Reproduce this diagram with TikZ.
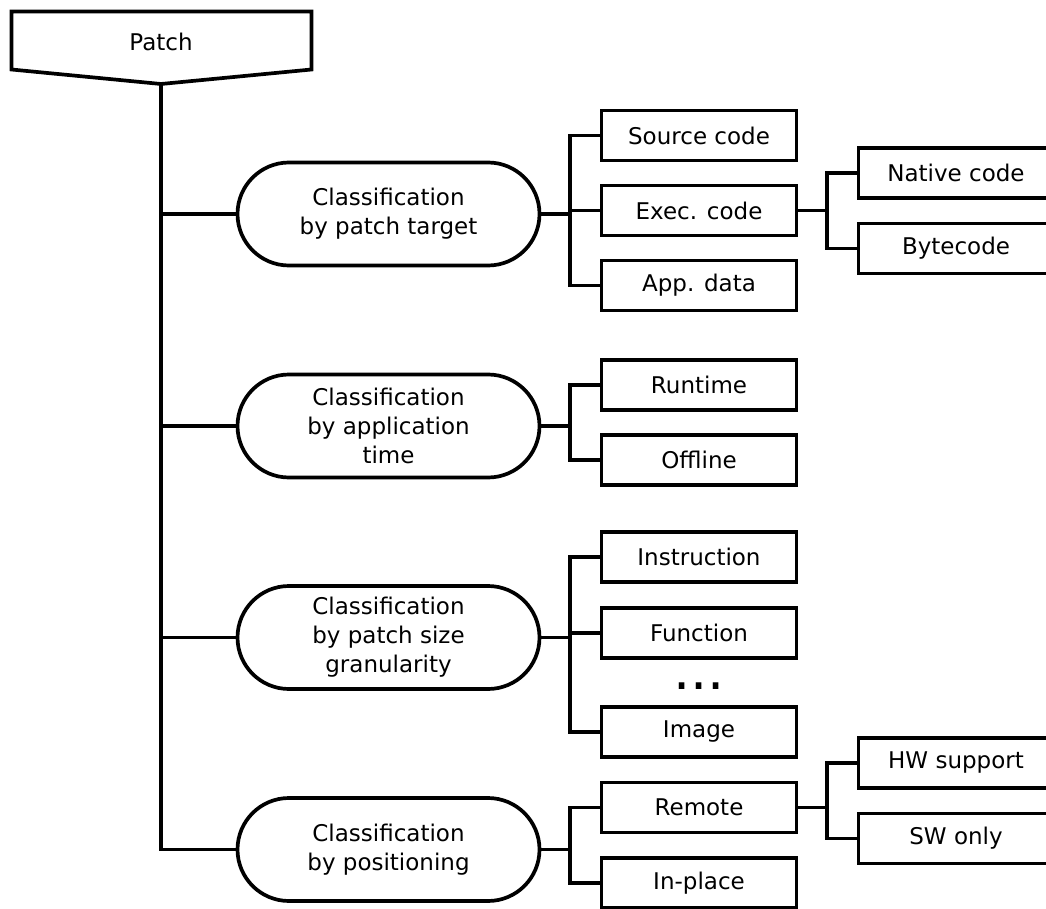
\documentclass[tikz,border=0pt]{standalone}
\usepackage{fontspec}
\setmainfont{DejaVu Sans}
\begin{document}
\begin{tikzpicture}[x=1pt,y=-1pt,
  every node/.style={font=\fontsize{23}{29}\selectfont, inner sep=0pt},
  wire/.style={line width=3.7pt, line join=miter},
  classbox/.style={draw, line width=3.7pt, rectangle, rounded corners=51.5pt,
    minimum width=302pt, minimum height=103pt, align=center},
  leafbox/.style={draw, line width=3.7pt, rectangle,
    minimum width=195pt, minimum height=50pt}]
\useasboundingbox (0,0) rectangle (1046,909);

% root
\draw[wire] (11.5,11.5) -- (311.5,11.5) -- (311.5,69.5) -- (161,84) -- (11.5,69.5) -- cycle;
\node (patch) at (161,42) {Patch};
\coordinate (root) at (161,84);

% classification nodes
\node[classbox] (c1) at (388.5,214)   {Classification\\by patch target};
\node[classbox] (c2) at (388.5,426)   {Classification\\by application\\time};
\node[classbox] (c3) at (388.5,637.5) {Classification\\by patch size\\granularity};
\node[classbox] (c4) at (388.5,849.5) {Classification\\by positioning};

% leaves
\node[leafbox] (src)  at (699,135.5) {Source code};
\node[leafbox] (exec) at (699,210.5) {Exec. code};
\node[leafbox] (app)  at (699,285.5) {App. data};
\node[leafbox] (nat)  at (956,173)   {Native code};
\node[leafbox] (byte) at (956,248.5) {Bytecode};

\node[leafbox] (run)  at (699,385)   {Runtime};
\node[leafbox] (off)  at (699,460)   {Offline};

\node[leafbox] (ins)  at (699,557)   {Instruction};
\node[leafbox] (fun)  at (699,633)   {Function};
\node[font=\fontsize{54}{54}\selectfont, anchor=base] (dots) at (699,689) {...};
\node[leafbox] (img)  at (699,732)   {Image};

\node[leafbox] (rem)  at (699,807.5) {Remote};
\node[leafbox] (inp)  at (699,883)   {In-place};
\node[leafbox] (hw)   at (956,763)   {HW support};
\node[leafbox] (sw)   at (956,838.5) {SW only};

% trunk
\draw[wire] (root) -- (root |- c4.west) -- (c4.west);
\foreach \c in {c1,c2,c3} \draw[wire] (root |- \c.west) -- (\c.west);

% branch buses
\coordinate (b1) at (570,214);
\coordinate (b2) at (570,426);
\coordinate (b3) at (570,637.5);
\coordinate (b4) at (570,849.5);
\draw[wire] (c1.east) -- (b1);
\draw[wire] (c2.east) -- (b2);
\draw[wire] (c3.east) -- (b3);
\draw[wire] (c4.east) -- (b4);

\draw[wire] (src.west) -| (b1) |- (app.west);
\draw[wire] (b1) |- (exec.west);
\draw[wire] (run.west) -| (b2) |- (off.west);
\draw[wire] (ins.west) -| (b3) |- (img.west);
\draw[wire] (b3) |- (fun.west);
\draw[wire] (rem.west) -| (b4) |- (inp.west);

% sub-branches
\coordinate (s1) at (827,210.5);
\coordinate (s2) at (827,807.5);
\draw[wire] (exec.east) -- (s1);
\draw[wire] (nat.west) -| (s1) |- (byte.west);
\draw[wire] (rem.east) -- (s2);
\draw[wire] (hw.west) -| (s2) |- (sw.west);
\end{tikzpicture}
\end{document}
